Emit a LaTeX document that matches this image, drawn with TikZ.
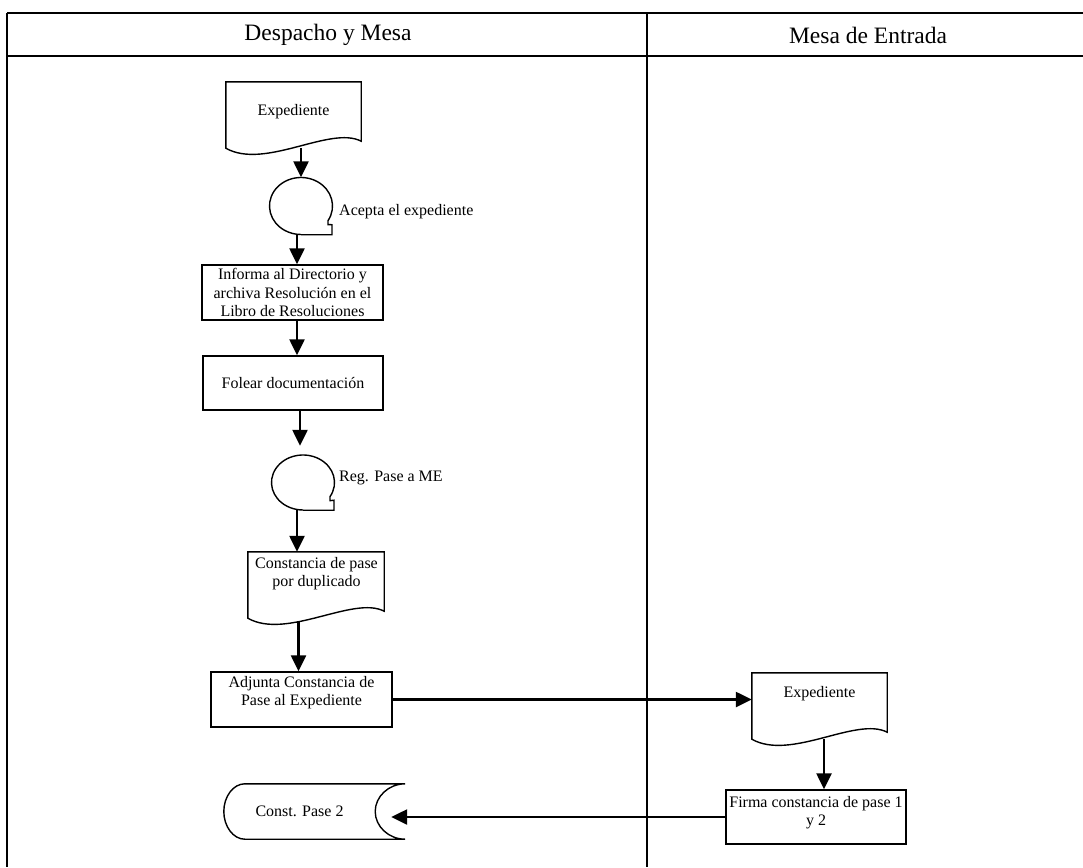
\documentclass[tikz,border=0pt]{standalone}
\usepackage{fontspec}
\setmainfont{Liberation Serif}
\usetikzlibrary{arrows.meta,calc,shapes.geometric}

% document symbol: flat top, wavy bottom (node covers the full outline)
\newcommand\flowdoc[1]{%
  \draw[outline] (#1.north west) -- (#1.north east)
    -- ($(#1.south east)+(0,-11)$)
    .. controls ($(#1.south east)+(-31,-27)$) and ($(#1.south west)+(39,18)$)
    .. ($(#1.south west)+(0,-4)$) -- cycle;}
% sequential-access storage: open circle with a tail at the lower right
% #2 = vertical radius of the circle
\newcommand\flowtape[2]{%
  \draw[outline] (#1.south) -- ++(31,0) -- ++(0,-10)
    -- ($(#1.center)+({31.5*cos(31)},{#2*sin(31)+4})$)
    -- ($(#1.center)+({31.5*cos(31)},{#2*sin(31)})$)
    arc[start angle=31, end angle=-270, x radius=31.5, y radius=#2];}
% stored data symbol: convex left side, concave right side
\newcommand\flowstored[1]{%
  \draw[outline] ($(#1.north west)+(21,0)$) -- ($(#1.north east)+(30,0)$)
    .. controls ($(#1.north east)+(13.5,0)$) and ($(#1.east)+(0,-15)$) .. (#1.east)
    .. controls ($(#1.east)+(0,15)$) and ($(#1.south east)+(13.5,0)$) .. ($(#1.south east)+(30,0)$)
    -- ($(#1.south west)+(21,0)$)
    .. controls ($(#1.south west)+(9.5,0)$) and ($(#1.west)+(0,15)$) .. (#1.west)
    .. controls ($(#1.west)+(0,-15)$) and ($(#1.north west)+(9.5,0)$) .. cycle;}

\begin{document}
\begin{tikzpicture}[x=1pt,y=-1pt,
  every node/.style={font=\fontsize{16}{18.5}\selectfont, inner sep=0pt},
  outline/.style={draw=black, line width=1.4pt},
  procbox/.style={outline, rectangle, align=center},
  area/.style={rectangle, inner sep=0pt},
  tapebody/.style={ellipse, inner sep=0pt, minimum width=63pt},
  caption/.style={align=center},
  flow/.style={draw=black, line width=2.4pt, -{Triangle[length=16pt,width=15pt]}},
  gridline/.style={draw=black, line width=2pt},
  lanehead/.style={font=\fontsize{23.5}{27}\selectfont},
]
\useasboundingbox (0,0) rectangle (1083,867);

% swimlane table
\draw[gridline] (7,13) -- (1083,13);
\draw[gridline] (7,56) -- (1083,56);
\draw[gridline] (7,13) -- (7,867);
\draw[gridline] (647,13) -- (647,867);
\node[lanehead] (lane1) at (328,35) {Despacho y Mesa};
\node[lanehead] (lane2) at (868,35) {Mesa de Entrada};

% Despacho y Mesa
\node[area, minimum width=135pt, minimum height=70pt] (doc1) at (293.5,117) {};
\flowdoc{doc1}
\node[caption] (doc1text) at ($(doc1.center)+(0,-5.5)$) {Expediente};

\node[tapebody, minimum height=57pt] (tape1) at (301,206) {};
\flowtape{tape1}{28.5}
\node[anchor=base west] (tape1text) at (339,215) {Acepta el expediente};

\node[procbox, minimum width=181pt, minimum height=55pt] (box1) at (292.5,292.5)
  {Informa al Directorio y\\archiva Resolución en el\\Libro de Resoluciones};

\node[procbox, minimum width=180pt, minimum height=54pt] (box2) at (293,383)
  {Folear documentación};

\node[tapebody, minimum height=55pt] (tape2) at (303,482.5) {};
\flowtape{tape2}{27.5}
\node[anchor=base west] (tape2text) at (339,481) {Reg. Pase a ME};

\node[area, minimum width=136pt, minimum height=70pt] (doc2) at (316,587) {};
\flowdoc{doc2}
\node[caption] (doc2text) at ($(doc2.center)+(0.5,-13.5)$) {Constancia de pase\\por duplicado};

\node[procbox, minimum width=181pt, minimum height=55pt] (box3) at (301.5,699.5) {};
\node[caption] (box3text) at ($(box3.center)+(0,-7)$) {Adjunta Constancia de\\Pase al Expediente};

\node[area, minimum width=151pt, minimum height=55pt] (stored) at (299.5,811.5) {Const. Pase 2};
\flowstored{stored}

% Mesa de Entrada
\node[area, minimum width=135pt, minimum height=70pt] (doc3) at (819.5,708) {};
\flowdoc{doc3}
\node[caption] (doc3text) at ($(doc3.center)+(0,-14)$) {Expediente};

\node[procbox, minimum width=180pt, minimum height=54pt] (box4) at (816,817) {};
\node[caption] (box4text) at ($(box4.center)+(0,-4.5)$) {Firma constancia de pase 1\\y 2};

% connectors
\coordinate (f1) at ($(doc1.south -| tape1.north)+(0,-4)$);
\draw[flow] (f1) -- (tape1.north);
\coordinate (f2) at ($(tape1.south)+(-4,0)$);
\draw[flow] (f2) -- (f2 |- box1.north);
\coordinate (f3) at ($(box1.south)+(4.5,0)$);
\draw[flow] (f3) -- (f3 |- box2.north);
\coordinate (f4) at ($(box2.south)+(7,0)$);
\draw[flow, shorten >=9pt] (f4) -- (f4 |- tape2.north);
\coordinate (f5) at ($(tape2.south)+(-6,0)$);
\draw[flow] (f5) -- (f5 |- doc2.north);
\coordinate (f6) at ($(box3.north)+(-3,0)$);
\draw[flow] (f6 |- doc2.south) -- (f6);
\draw[flow] (box3.east) -- (box3.east -| doc3.west);
\coordinate (f8) at ($(doc3.south)+(4.5,-4)$);
\draw[flow] (f8) -- (f8 |- box4.north);
\coordinate (f9) at ($(box4.west -| stored.east)+(16,0)$);
\draw[flow] (box4.west) -- (f9);
\end{tikzpicture}
\end{document}
